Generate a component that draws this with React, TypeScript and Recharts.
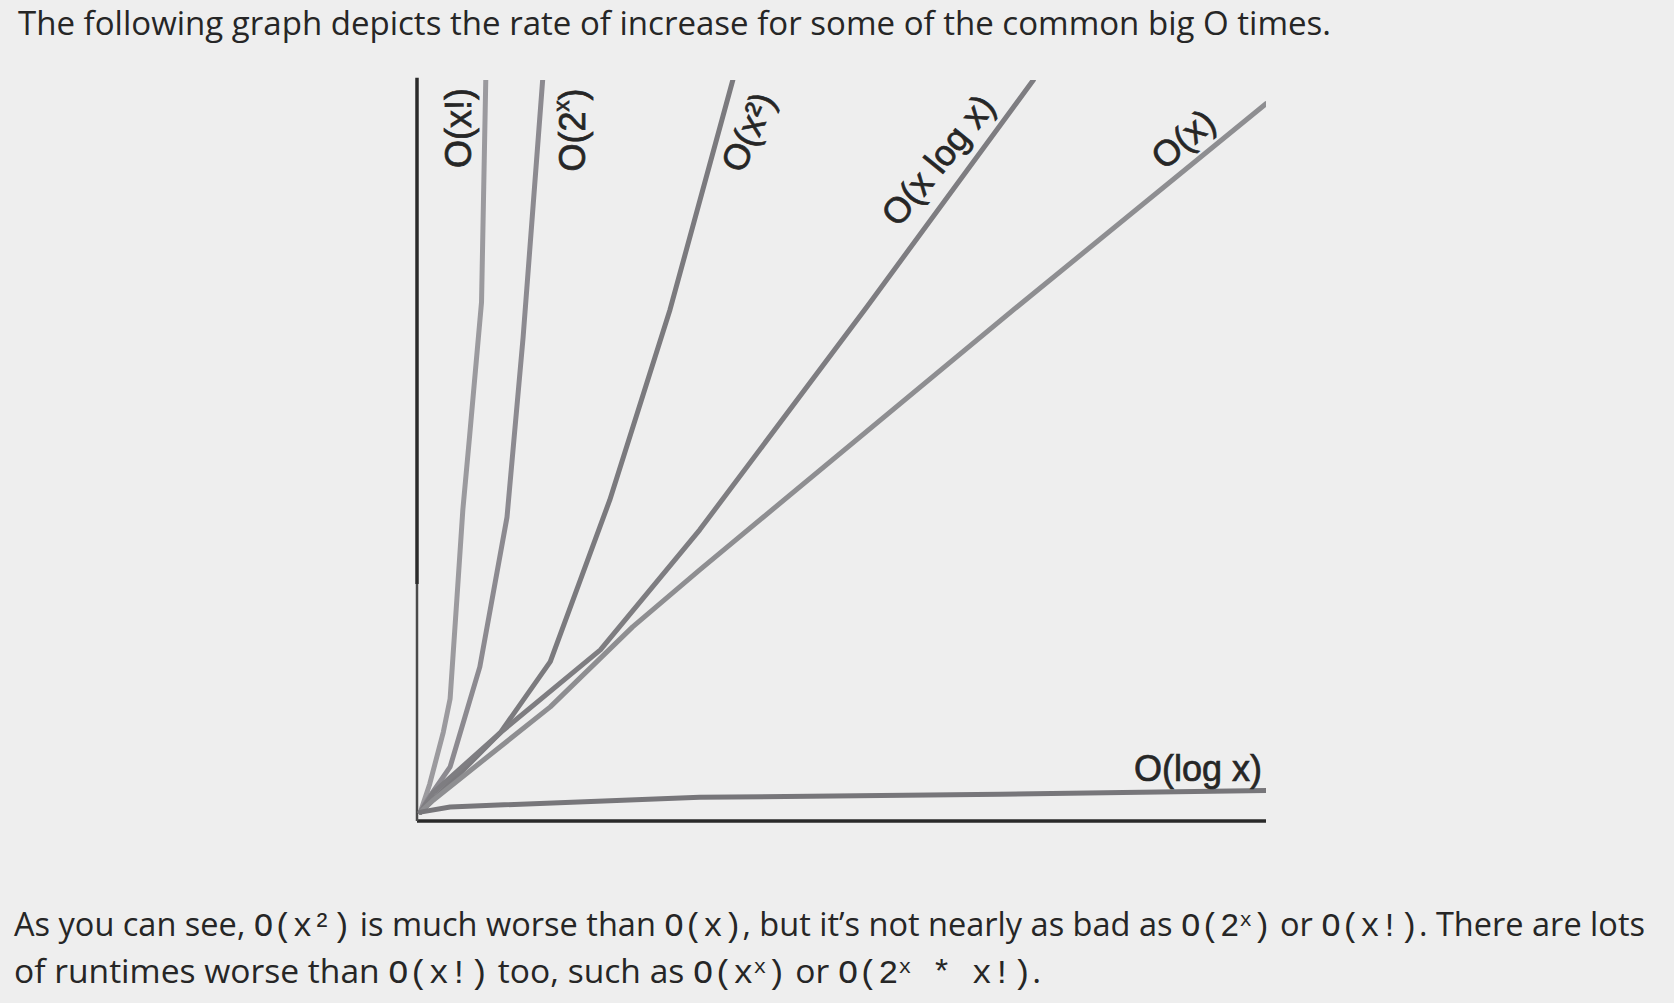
import { Line, LineChart, ReferenceLine, XAxis, YAxis } from "recharts";

// hand-drawn growth curves (x, y on a 0..100 grid)
const factorial = [[0.4, 1.2], [1.5, 5], [3.1, 12], [3.9, 16.5], [4.7, 30], [5.4, 42], [6.2, 52], [7.6, 70], [8.1, 100]];
const exponential = [[0.4, 1.2], [1.2, 2.8], [3.9, 7.3], [7.4, 20.8], [10.6, 41], [12.5, 65.3], [13.7, 83.4], [14.8, 100]];
const quadratic = [[0.4, 1.2], [3.9, 5.1], [9.8, 11.9], [15.7, 21.5], [22.7, 43.3], [29.8, 69], [37.2, 100]];
const linearithmic = [[0.4, 1.2], [1.9, 3.8], [9.8, 11.9], [21.6, 23.1], [33.3, 39.3], [53, 69.4], [72.6, 100]];
const linear = [[0.4, 1.2], [1.9, 2.8], [7.8, 8.2], [15.7, 15.4], [25.4, 26.2], [33.3, 33.9], [70.7, 69.4], [100, 96.8]];
const logarithmic = [[0.4, 1.2], [3.9, 1.9], [33.3, 3.2], [68.7, 3.6], [100, 4.1]];

const toRows = (pts: number[][]) => pts.map(([x, y]) => ({ x, y }));

const series = [
  { key: "fact", pts: factorial, color: "#9b9a9e" },
  { key: "exp", pts: exponential, color: "#8c8a90" },
  { key: "sq", pts: quadratic, color: "#7b7a7e" },
  { key: "nlogn", pts: linearithmic, color: "#7e7d81" },
  { key: "lin", pts: linear, color: "#8e8e91" },
  { key: "log", pts: logarithmic, color: "#77767a" },
];

const title = "The following graph depicts the rate of increase for some of the common big O times.";

const W = 1674;
const H = 1003;
const ink = "#262626";
const prose = "'Open Sans', sans-serif";
const mono = "'Liberation Mono', monospace";
const lbl = "'Liberation Sans', Arial, sans-serif";

function Sup({ t, dy = 11, size }: { t: string; dy?: number; size: number }) {
  return (
    <tspan dy={-dy} fontSize={size}>
      {t}
    </tspan>
  );
}

export default function App() {
  return (
    <div style={{ position: "absolute", left: 0, top: 0, width: W, height: H, background: "#eeeeee", overflow: "hidden" }}>
      <LineChart width={W} height={H} margin={{ top: 80, right: W - 1266, bottom: H - 821, left: 417 }}>
        <XAxis type="number" dataKey="x" domain={[0, 100]} hide allowDataOverflow />
        <YAxis type="number" dataKey="y" domain={[0, 100]} hide allowDataOverflow />
        {/* axes: the scan shows a darker upper y-axis and a fainter lower part */}
        <ReferenceLine y={0} stroke="#2a2a2a" strokeWidth={3.5} ifOverflow="visible" />
        <ReferenceLine segment={[{ x: 0, y: 32 }, { x: 0, y: 100.3 }]} stroke="#2a2a2a" strokeWidth={3.5} ifOverflow="visible" />
        <ReferenceLine segment={[{ x: 0, y: 0 }, { x: 0, y: 32 }]} stroke="#4a4a4a" strokeWidth={2.5} ifOverflow="visible" />
        {series.map((s) => (
          <Line
            key={s.key}
            data={toRows(s.pts)}
            dataKey="y"
            type="linear"
            stroke={s.color}
            strokeWidth={5}
            strokeLinecap="round"
            strokeLinejoin="round"
            dot={false}
            activeDot={false}
            isAnimationActive={false}
          />
        ))}
      </LineChart>

      <svg width={W} height={H} style={{ position: "absolute", left: 0, top: 0, pointerEvents: "none" }}>
        <text x={18} y={35} fontFamily={prose} fontSize={32} fill={ink} textLength={1313} lengthAdjust="spacingAndGlyphs">
          {title}
        </text>

        {/* curve labels */}
        <g fontFamily={lbl} fontSize={36} fill={ink} stroke={ink} strokeWidth={0.7}>
          <text x={458} y={128} textAnchor="middle" dominantBaseline="central" transform="rotate(-90 458 128)">
            O(x!)
          </text>
          <text x={572} y={130} textAnchor="middle" dominantBaseline="central" transform="rotate(-90 572 130)">
            O(2<Sup t="x" size={22} />
            <tspan dy={11}>)</tspan>
          </text>
          <text x={748} y={132} textAnchor="middle" dominantBaseline="central" transform="rotate(-66 748 132)">
            O(x²)
          </text>
          <text x={938} y={160} textAnchor="middle" dominantBaseline="central" transform="rotate(-51 938 160)">
            O(x log x)
          </text>
          <text x={1183} y={139} textAnchor="middle" dominantBaseline="central" transform="rotate(-40 1183 139)">
            O(x)
          </text>
          <text x={1262} y={781} textAnchor="end">
            O(log x)
          </text>
        </g>

        <g fontFamily={prose} fontSize={33} fill={ink}>
          <text x={14} y={936} textLength={1631} lengthAdjust="spacingAndGlyphs">
            As you can see, <tspan fontFamily={mono}>O(x²)</tspan> is much worse than <tspan fontFamily={mono}>O(x)</tspan>, but it’s not nearly as bad as{" "}
            <tspan fontFamily={mono}>
              O(2<Sup t="x" size={21} dy={10} />
              <tspan dy={10}>)</tspan>
            </tspan>{" "}
            or <tspan fontFamily={mono}>O(x!)</tspan>. There are lots
          </text>
          <text x={14} y={983} textLength={1027} lengthAdjust="spacingAndGlyphs">
            of runtimes worse than <tspan fontFamily={mono}>O(x!)</tspan> too, such as{" "}
            <tspan fontFamily={mono}>
              O(x<Sup t="x" size={21} dy={10} />
              <tspan dy={10}>)</tspan>
            </tspan>{" "}
            or{" "}
            <tspan fontFamily={mono}>
              O(2<Sup t="x" size={21} dy={10} />
              <tspan dy={10}> * x!)</tspan>
            </tspan>
            .
          </text>
        </g>
      </svg>
    </div>
  );
}
